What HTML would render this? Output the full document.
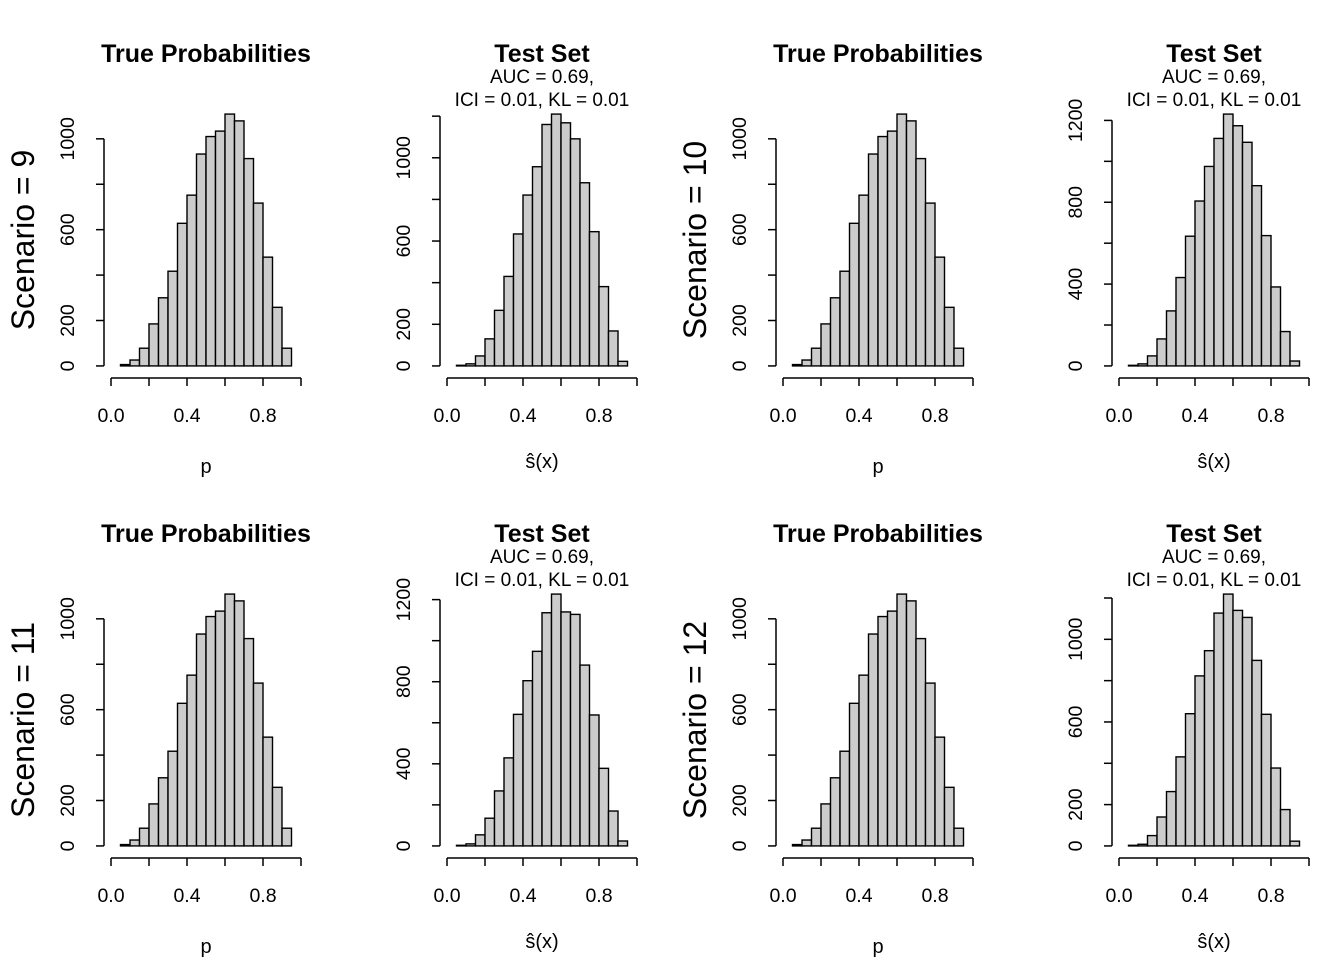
<!DOCTYPE html>
<html><head><meta charset="utf-8"><style>
body{margin:0;background:#fff;}
svg{display:block;font-family:"Liberation Sans",Arial,sans-serif;}
</style></head><body>
<svg id="chart" width="1344" height="960"></svg>
<script>
const binEdges=[0,0.05,0.1,0.15,0.2,0.25,0.3,0.35,0.4,0.45,0.5,0.55,0.6,0.65,0.7,0.75,0.8,0.85,0.9,0.95,1.0];
const trueCounts=[0,6,26,78,185,300,417,628,752,933,1010,1034,1109,1079,913,717,479,258,78,0];
const testCounts9=[0,3,10,48,130,267,430,634,821,957,1160,1210,1168,1091,880,645,381,168,22,0];
const testCounts10=[0,3,10,49,132,269,432,634,806,975,1112,1231,1174,1093,881,637,386,168,24,0];
const testCounts11=[0,3,10,54,135,268,429,641,805,948,1136,1227,1140,1128,881,638,378,170,24,0];
const testCounts12=[0,3,8,50,140,263,431,640,823,945,1127,1219,1140,1106,898,637,377,176,23,0];
const xTicks=[0,0.2,0.4,0.6,0.8,1.0];
const xTickLabels=["0.0","","0.4","","0.8",""];
const ytA=[0,200,400,600,800,1000,1200];
const ytLabA=["0","200","","600","","1000",""];
const ytLabB=["0","","400","","800","","1200"];
const ytTrue=[0,200,400,600,800,1000];
const ytLabTrue=["0","200","","600","","1000"];

const NS="http://www.w3.org/2000/svg";
const svg=document.getElementById('chart');
function mk(tag,attrs,parent){const e=document.createElementNS(NS,tag);for(const k in attrs)e.setAttribute(k,attrs[k]);(parent||svg).appendChild(e);return e;}

const panels=[
 {c:0,r:0,kind:'true',counts:trueCounts,yt:ytTrue,yl:ytLabTrue,sc:9},
 {c:1,r:0,kind:'test',counts:testCounts9,yt:ytA,yl:ytLabA},
 {c:2,r:0,kind:'true',counts:trueCounts,yt:ytTrue,yl:ytLabTrue,sc:10},
 {c:3,r:0,kind:'test',counts:testCounts10,yt:ytA,yl:ytLabB},
 {c:0,r:1,kind:'true',counts:trueCounts,yt:ytTrue,yl:ytLabTrue,sc:11},
 {c:1,r:1,kind:'test',counts:testCounts11,yt:ytA,yl:ytLabB},
 {c:2,r:1,kind:'true',counts:trueCounts,yt:ytTrue,yl:ytLabTrue,sc:12},
 {c:3,r:1,kind:'test',counts:testCounts12,yt:ytA,yl:ytLabA},
];

panels.forEach((p,i)=>{
  const g=mk('g',{});
  
  
  const x0=111+336*p.c, xs=190;
  const regTop=104+480*p.r, regBot=376+480*p.r, H=regBot-regTop;
  const M=Math.max(...p.counts);
  const s=H/(1.08*M);
  const y0=regBot-0.04*M*s;
  const X=v=>x0+v*xs, Y=v=>y0-v*s;
  const cx=x0+95;
  p.counts.forEach((v,j)=>{
    const r=mk('rect',{x:X(binEdges[j]),y:Y(v),width:X(binEdges[j+1])-X(binEdges[j]),height:Math.max(0,Y(0)-Y(v)),fill:'#cccccc',stroke:'#000','stroke-width':1.4},g);
    
    
  });
  const axY=regBot+2;
  const xa=mk('g',{},g);
  
  
  mk('line',{x1:X(0),x2:X(1),y1:axY,y2:axY,stroke:'#000','stroke-width':1.5},xa);
  xTicks.forEach((t,k)=>{
    mk('line',{x1:X(t),x2:X(t),y1:axY,y2:axY+8,stroke:'#000','stroke-width':1.5},xa);
    if(xTickLabels[k]){const tx=mk('text',{x:X(t),y:axY+44,'font-size':19.5,'text-anchor':'middle'},xa);tx.textContent=xTickLabels[k];}
  });
  const xl=mk('text',{x:cx,y:p.kind==='true'?regBot+97:regBot+92,'font-size':20,'text-anchor':'middle'},g);
  xl.textContent=p.kind==='true'?'p':'\u015D(x)';
  
  
  const ya=mk('g',{},g);
  
  
  const axX=x0-7;
  mk('line',{x1:axX,x2:axX,y1:Y(0),y2:Y(p.yt[p.yt.length-1]),stroke:'#000','stroke-width':1.5},ya);
  p.yt.forEach((t,k)=>{
    mk('line',{x1:axX,x2:axX-8,y1:Y(t),y2:Y(t),stroke:'#000','stroke-width':1.5},ya);
    if(p.yl[k]){const lx=axX-37;const tx=mk('text',{x:lx,y:Y(t),'font-size':19.5,'text-anchor':'middle',transform:`rotate(-90 ${lx} ${Y(t)})`,dy:'0.35em'},ya);tx.textContent=p.yl[k];}
  });
  const ty=53+480*p.r;
  const t=mk('text',{x:cx,y:ty+9,'font-size':25,'font-weight':'bold','text-anchor':'middle'},g);
  t.textContent=p.kind==='true'?'True Probabilities':'Test Set';
  
  
  if(p.kind==='test'){
    const a=mk('text',{x:cx,y:ty+30,'font-size':19,'text-anchor':'middle'},g);a.textContent='AUC = 0.69,';
    
    
    const b=mk('text',{x:cx,y:ty+53,'font-size':19,'text-anchor':'middle'},g);b.textContent='ICI = 0.01, KL = 0.01';
    
    
  }
  if(p.sc){
    const sx=x0-88, sy=(regTop+regBot)/2;
    const st=mk('text',{x:sx,y:sy,'font-size':32,'text-anchor':'middle',transform:`rotate(-90 ${sx} ${sy})`,dy:'0.35em'},g);
    st.textContent='Scenario = '+p.sc;
    
    
  }
});
</script>
</body></html>
